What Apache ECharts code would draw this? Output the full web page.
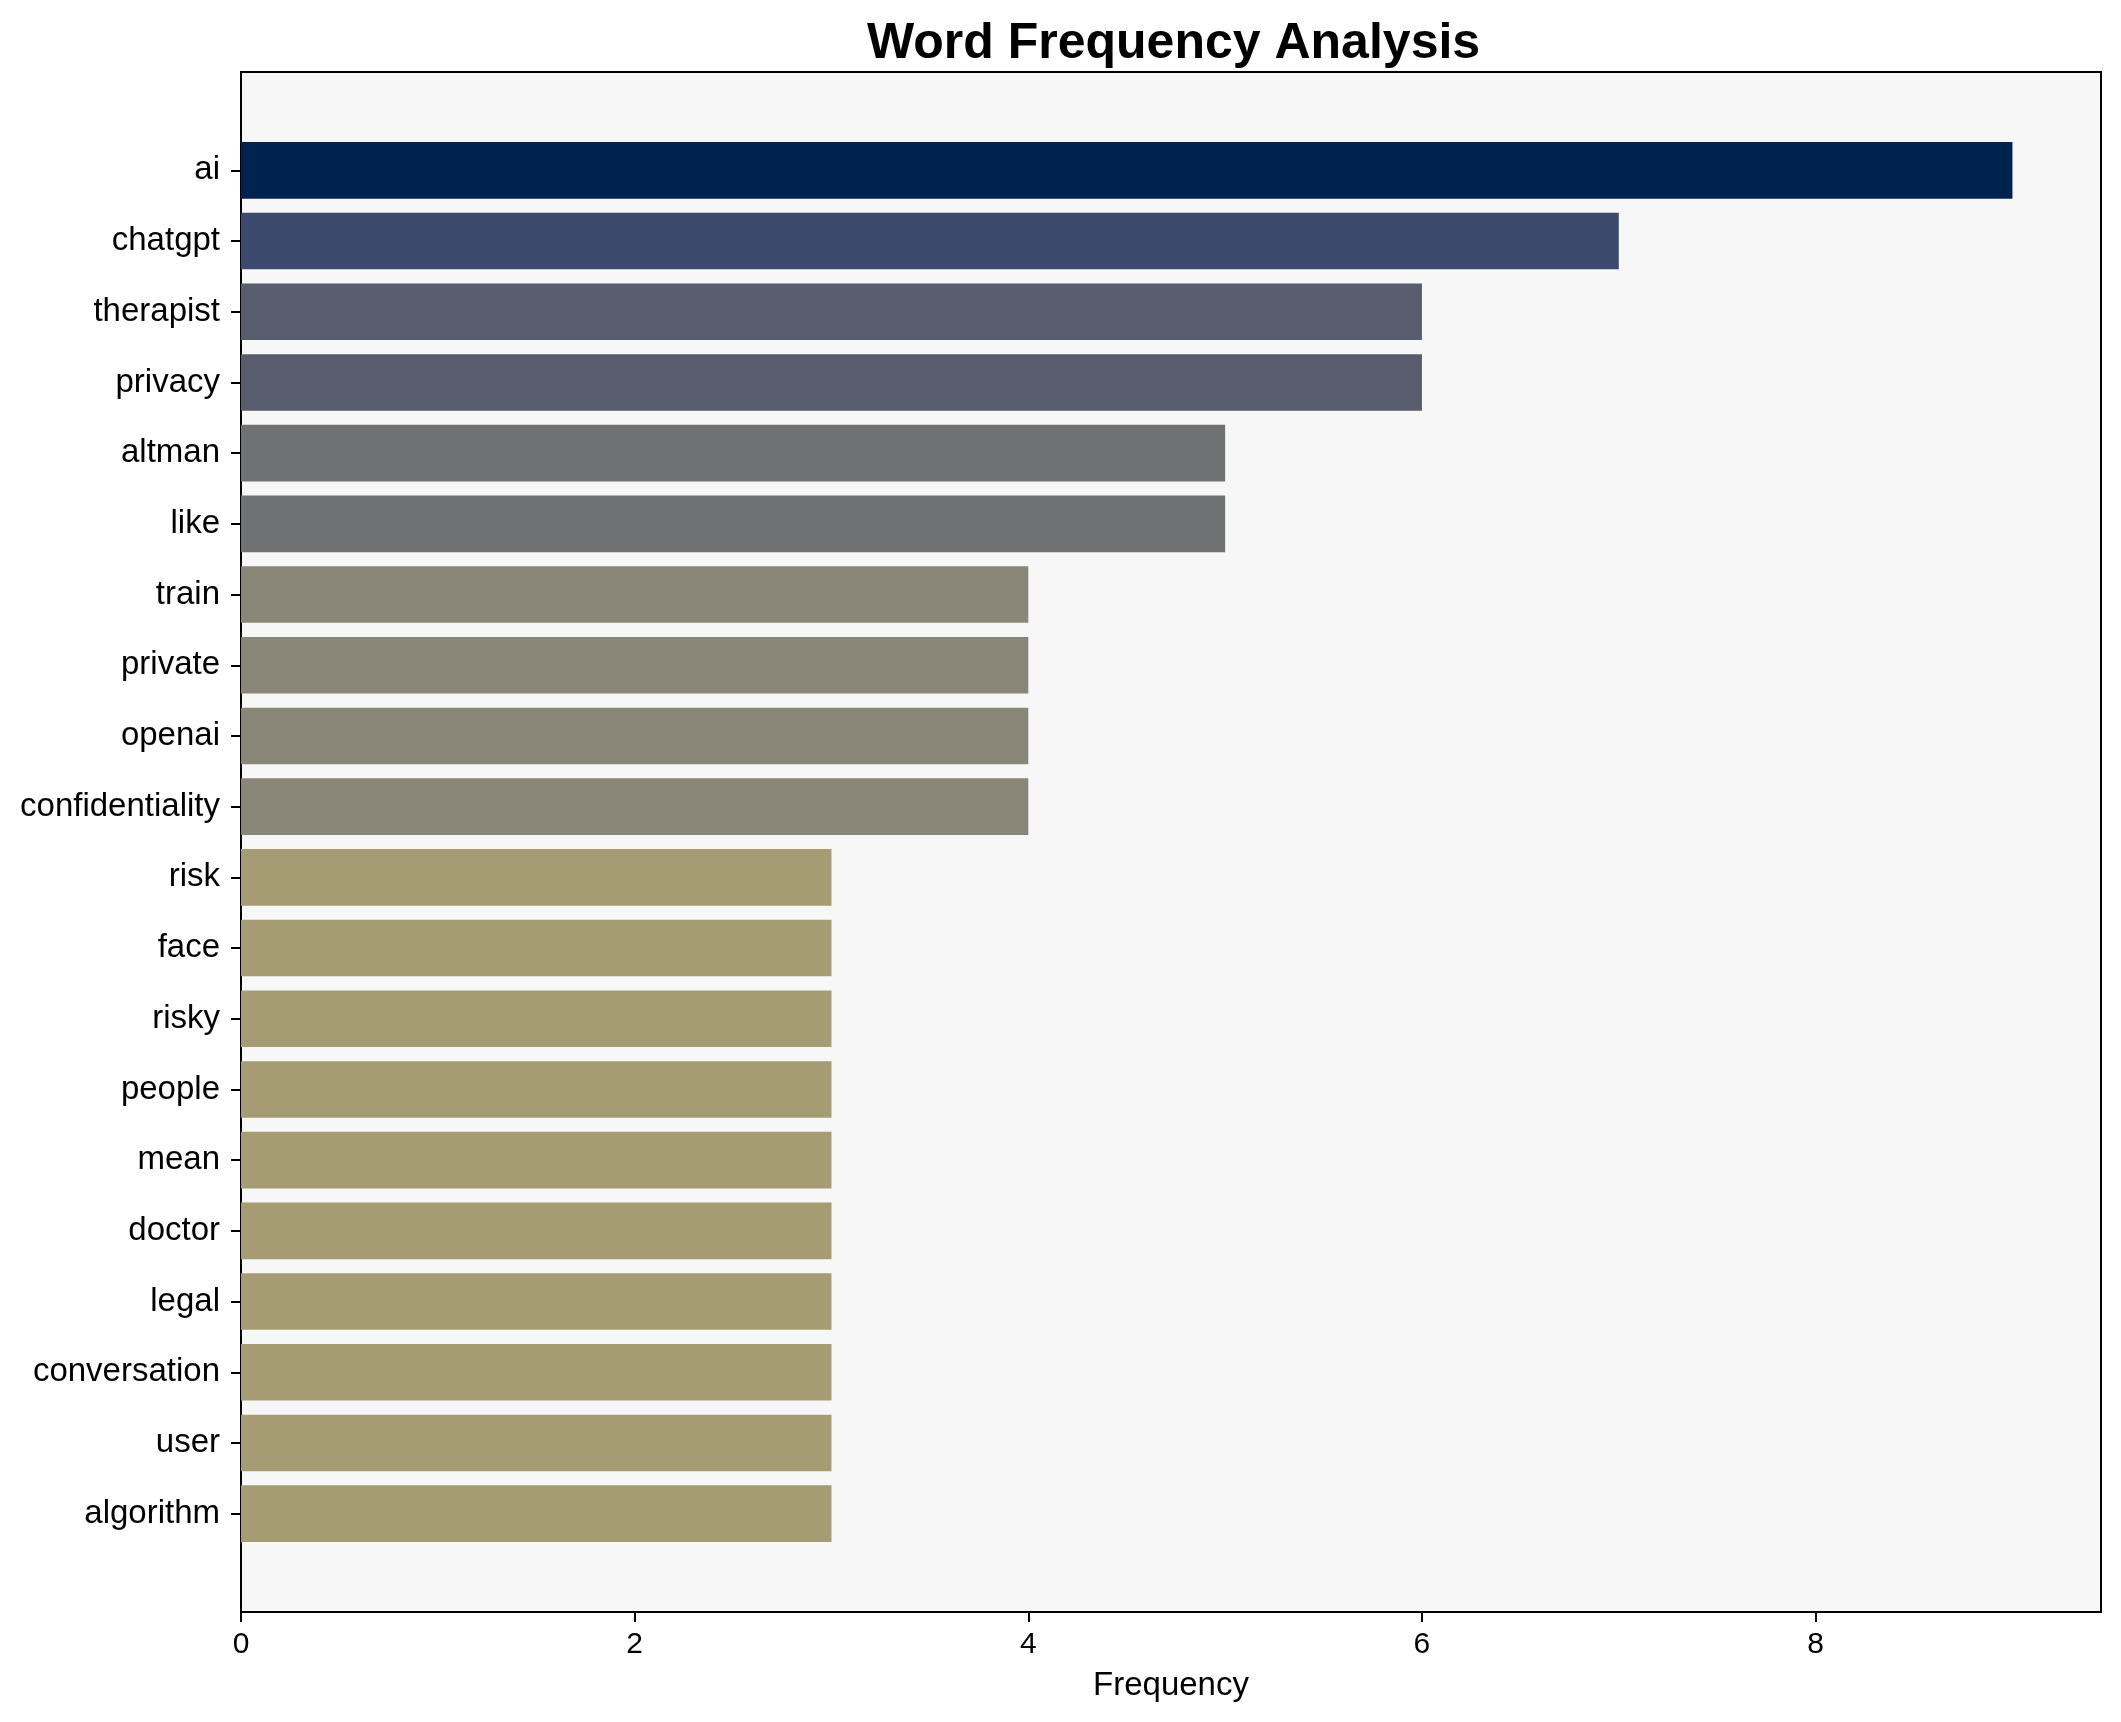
<!DOCTYPE html>
<html>
<head>
<meta charset="utf-8">
<script src="https://cdn.jsdelivr.net/npm/echarts@6/dist/echarts.min.js"></script>
<style>
html,body{margin:0;padding:0;background:#fff;}
#chart{width:2121px;height:1722px;}
</style>
</head>
<body>
<div id="chart"></div>
<script>
const categories = ["ai","chatgpt","therapist","privacy","altman","like","train","private","openai","confidentiality","risk","face","risky","people","mean","doctor","legal","conversation","user","algorithm"];
const frequencies = [9,7,6,6,5,5,4,4,4,4,3,3,3,3,3,3,3,3,3,3];
const xTicks = [0,2,4,6,8];
const xMax = 9.45;
const titleText = "Word Frequency Analysis";
const xName = "Frequency";

const palette = {9:"#00224e",7:"#3b496c",6:"#575d6d",5:"#707173",4:"#8a8779",3:"#a59c74"};
const FONT = "'Liberation Sans', Arial, sans-serif";

const chart = echarts.init(document.getElementById('chart'), null, {renderer:'canvas'});
chart.setOption({
  backgroundColor:'#ffffff',
  animation:false,
  title:{
    text:titleText,
    left:867, top:19, padding:0,
    textStyle:{fontFamily:FONT,fontSize:50,fontWeight:'bold',color:'#000'}
  },
  grid:[
    {left:241,right:20,top:72,bottom:110,show:true,backgroundColor:'#f7f7f7',borderColor:'#000',borderWidth:2,containLabel:false},
    {left:241,right:20,top:135,bottom:173,show:false,containLabel:false}
  ],
  xAxis:[
    {type:'value',gridIndex:0,min:0,max:xMax,interval:2,
     name:xName,nameLocation:'middle',nameGap:57,
     nameTextStyle:{fontFamily:FONT,fontSize:33,color:'#000'},
     axisLine:{show:false},
     axisTick:{show:true,length:10,lineStyle:{color:'#000',width:2},customValues:xTicks},
     axisLabel:{show:true,margin:18,fontFamily:FONT,fontSize:30,color:'#000',customValues:xTicks},
     splitLine:{show:false}},
    {type:'value',gridIndex:1,min:0,max:xMax,show:false}
  ],
  yAxis:[
    {type:'value',gridIndex:0,show:false,min:0,max:1},
    {type:'category',gridIndex:1,data:categories,inverse:true,
     axisLine:{show:false},
     axisTick:{show:true,alignWithLabel:true,length:10,lineStyle:{color:'#000',width:2}},
     axisLabel:{show:true,margin:21,fontFamily:FONT,fontSize:33,color:'#000',interval:0,padding:[6,0,0,0]},
     splitLine:{show:false}}
  ],
  series:[{
    type:'bar',xAxisIndex:1,yAxisIndex:1,
    data:frequencies,
    barWidth:'80%',
    itemStyle:{color:(p)=>palette[p.value]||'#a59c74'}
  }]
});
</script>
</body>
</html>
